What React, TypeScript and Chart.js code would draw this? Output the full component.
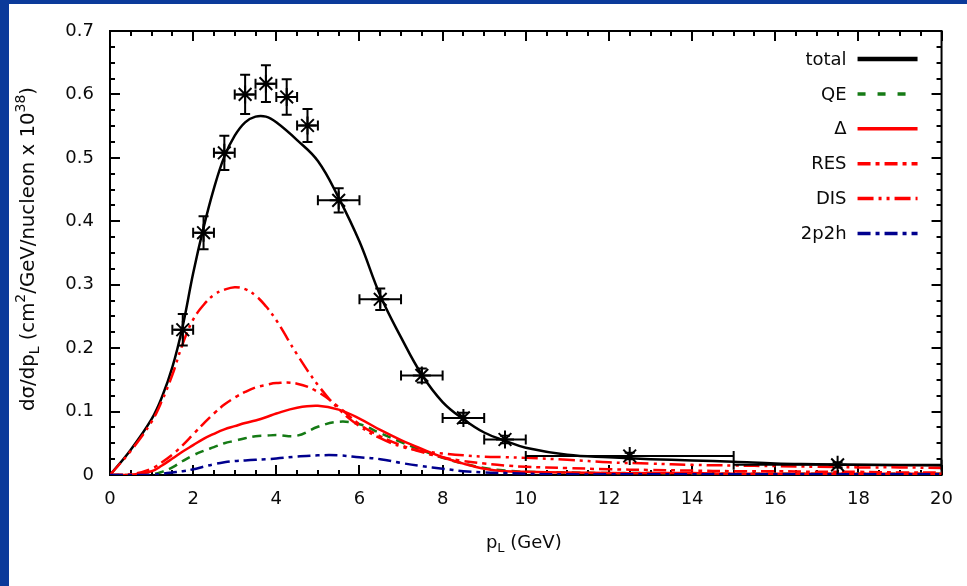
import React, { useEffect, useRef } from 'react';
import { Chart, registerables } from 'chart.js';

Chart.register(...registerables);

// ---------- data ----------
const curveX = [0, 0.5, 1, 1.25, 1.5, 1.75, 2, 2.25, 2.5, 2.75, 3, 3.25, 3.5, 3.75, 4, 4.5, 5, 5.5, 6, 6.5, 7, 7.5, 8, 8.5, 9, 9.5, 10, 11, 12, 13, 14, 15, 16, 17, 18, 19, 20];
const totalY = [0, 0.04, 0.088, 0.123, 0.17, 0.235, 0.318, 0.39, 0.452, 0.502, 0.535, 0.556, 0.565, 0.565, 0.556, 0.528, 0.495, 0.437, 0.368, 0.283, 0.217, 0.158, 0.115, 0.088, 0.067, 0.054, 0.043, 0.032, 0.028, 0.025, 0.023, 0.021, 0.018, 0.017, 0.016, 0.0155, 0.015];
const qeY = [0, 0, 0.001, 0.005, 0.012, 0.022, 0.031, 0.038, 0.044, 0.05, 0.054, 0.058, 0.061, 0.062, 0.063, 0.062, 0.076, 0.084, 0.08, 0.066, 0.052, 0.039, 0.027, 0.018, 0.011, 0.007, 0.005, 0.004, 0.003, 0.003, 0.002, 0.002, 0.002, 0.002, 0.002, 0.002, 0.002];
const deltaY = [0, 0.0005, 0.006, 0.015, 0.026, 0.037, 0.047, 0.057, 0.065, 0.072, 0.077, 0.082, 0.086, 0.091, 0.097, 0.106, 0.109, 0.103, 0.089, 0.071, 0.055, 0.041, 0.028, 0.018, 0.01, 0.006, 0.005, 0.004, 0.003, 0.003, 0.003, 0.002, 0.002, 0.002, 0.002, 0.002, 0.002];
const resY = [0, 0.001, 0.01, 0.02, 0.032, 0.047, 0.064, 0.081, 0.097, 0.111, 0.122, 0.131, 0.138, 0.142, 0.145, 0.144, 0.131, 0.107, 0.08, 0.061, 0.047, 0.036, 0.028, 0.022, 0.018, 0.015, 0.013, 0.011, 0.009, 0.008, 0.007, 0.006, 0.006, 0.005, 0.005, 0.004, 0.004];
const disY = [0, 0.038, 0.084, 0.117, 0.158, 0.207, 0.245, 0.268, 0.284, 0.292, 0.296, 0.293, 0.283, 0.266, 0.244, 0.19, 0.142, 0.104, 0.077, 0.058, 0.045, 0.038, 0.034, 0.031, 0.029, 0.028, 0.027, 0.024, 0.02, 0.018, 0.016, 0.015, 0.014, 0.013, 0.012, 0.012, 0.011];
const twoP2hY = [0, 0, 0, 0.002, 0.004, 0.006, 0.009, 0.013, 0.017, 0.02, 0.022, 0.023, 0.024, 0.025, 0.026, 0.029, 0.031, 0.031, 0.028, 0.025, 0.019, 0.014, 0.01, 0.006, 0.004, 0.003, 0.002, 0.001, 0.001, 0.001, 0.001, 0.001, 0.001, 0.001, 0.001, 0.001, 0.001];

const pointX = [1.75, 2.25, 2.75, 3.25, 3.75, 4.25, 4.75, 5.5, 6.5, 7.5, 8.5, 9.5, 12.5, 17.5];
const pointY = [0.229, 0.382, 0.508, 0.6, 0.617, 0.596, 0.551, 0.433, 0.277, 0.157, 0.09, 0.056, 0.03, 0.016];
const pointYErr = [0.025, 0.026, 0.027, 0.031, 0.029, 0.028, 0.026, 0.019, 0.017, 0.011, 0.008, 0.006, 0.005, 0.004];
const pointXErr = [0.25, 0.25, 0.25, 0.25, 0.25, 0.25, 0.25, 0.5, 0.5, 0.5, 0.5, 0.5, 2.5, 2.5];

const xTickLabels = ['0', '2', '4', '6', '8', '10', '12', '14', '16', '18', '20'];
const yTickLabels = ['0', '0.1', '0.2', '0.3', '0.4', '0.5', '0.6', '0.7'];

// ---------- styles ----------
const FONT = '"DejaVu Sans", Verdana, sans-serif';
const TEXT = '#0a0a0a';
const BLUE = '#0b3a9a';
const RED = '#ff0000';
const GREEN = '#157a15';
const NAVY = '#00008e';

const toXY = (ys: number[]) => curveX.map((x, i) => ({ x, y: ys[i] }));

type Seg = { t: string; k: 'n' | 'sub' | 'sup' };

function drawRich(ctx: CanvasRenderingContext2D, segs: Seg[], cx: number, cy: number, angle: number, size: number) {
  ctx.save();
  ctx.translate(cx, cy);
  ctx.rotate(angle);
  const fontFor = (k: string) => `${k === 'n' ? size : Math.round(size * 0.7)}px ${FONT}`;
  let total = 0;
  const widths = segs.map((s) => {
    ctx.font = fontFor(s.k);
    const w = ctx.measureText(s.t).width;
    total += w;
    return w;
  });
  let x = -total / 2;
  ctx.textBaseline = 'middle';
  ctx.textAlign = 'left';
  ctx.fillStyle = TEXT;
  segs.forEach((s, i) => {
    ctx.font = fontFor(s.k);
    const dy = s.k === 'sub' ? size * 0.32 : s.k === 'sup' ? -size * 0.38 : 0;
    ctx.fillText(s.t, x, dy);
    x += widths[i];
  });
  ctx.restore();
}

const framePlugin = {
  id: 'frameTicks',
  beforeDatasetsDraw(chart: any) {
    const { ctx, chartArea } = chart;
    const { left, right, top, bottom } = chartArea;
    const xs = chart.scales.x;
    const ys = chart.scales.y;
    ctx.save();
    ctx.strokeStyle = '#000';
    ctx.lineWidth = 2;
    ctx.beginPath();
    for (let i = 0; i <= 40; i++) {
      const v = i * 0.5;
      const px = Math.round(xs.getPixelForValue(v));
      const len = i % 4 === 0 ? 10 : 5;
      ctx.moveTo(px, bottom);
      ctx.lineTo(px, bottom - len);
      ctx.moveTo(px, top);
      ctx.lineTo(px, top + len);
    }
    for (let i = 0; i <= 28; i++) {
      const v = i * 0.025;
      const py = Math.round(ys.getPixelForValue(v));
      const len = i % 4 === 0 ? 10 : 5;
      ctx.moveTo(left, py);
      ctx.lineTo(left + len, py);
      ctx.moveTo(right, py);
      ctx.lineTo(right - len, py);
    }
    ctx.stroke();
    ctx.strokeRect(left, top, right - left, bottom - top);
    ctx.restore();
  },
};

const errorBarPlugin = {
  id: 'errorBars',
  afterDatasetsDraw(chart: any) {
    const { ctx } = chart;
    const xs = chart.scales.x;
    const ys = chart.scales.y;
    const cap = 5;
    ctx.save();
    ctx.strokeStyle = '#000';
    ctx.lineWidth = 2;
    ctx.beginPath();
    pointX.forEach((xv, i) => {
      const yv = pointY[i];
      const px = xs.getPixelForValue(xv);
      const py = ys.getPixelForValue(yv);
      const y1 = ys.getPixelForValue(yv - pointYErr[i]);
      const y2 = ys.getPixelForValue(yv + pointYErr[i]);
      const x1 = xs.getPixelForValue(xv - pointXErr[i]);
      const x2 = xs.getPixelForValue(xv + pointXErr[i]);
      ctx.moveTo(px, y1); ctx.lineTo(px, y2);
      ctx.moveTo(px - cap, y1); ctx.lineTo(px + cap, y1);
      ctx.moveTo(px - cap, y2); ctx.lineTo(px + cap, y2);
      ctx.moveTo(x1, py); ctx.lineTo(x2, py);
      ctx.moveTo(x1, py - cap); ctx.lineTo(x1, py + cap);
      ctx.moveTo(x2, py - cap); ctx.lineTo(x2, py + cap);
    });
    ctx.stroke();
    ctx.restore();
  },
};

const legendPlugin = {
  id: 'insideLegend',
  afterDatasetsDraw(chart: any) {
    const { ctx, chartArea } = chart;
    const items = chart.data.datasets.filter((d: any) => d.inLegend);
    const lineEnd = chartArea.right - 24;
    const lineStart = lineEnd - 60;
    const textRight = lineStart - 11;
    ctx.save();
    ctx.font = `18px ${FONT}`;
    ctx.textAlign = 'right';
    ctx.textBaseline = 'middle';
    items.forEach((d: any, i: number) => {
      const y = chartArea.top + 28 + i * 34.9;
      ctx.fillStyle = TEXT;
      ctx.fillText(d.label, textRight, y + 1);
      ctx.strokeStyle = d.borderColor;
      ctx.lineWidth = d.legendWidth;
      ctx.lineCap = 'butt';
      ctx.setLineDash(d.legendDash);
      ctx.beginPath();
      ctx.moveTo(lineStart, y);
      ctx.lineTo(lineEnd, y);
      ctx.stroke();
    });
    ctx.restore();
  },
};

const titlePlugin = {
  id: 'richTitles',
  afterDraw(chart: any) {
    const { ctx, chartArea } = chart;
    const cx = (chartArea.left + chartArea.right) / 2;
    const cy = (chartArea.top + chartArea.bottom) / 2;
    drawRich(ctx, [{ t: 'p', k: 'n' }, { t: 'L', k: 'sub' }, { t: ' (GeV)', k: 'n' }], cx - 2, chartArea.bottom + 68, 0, 18);
    drawRich(
      ctx,
      [
        { t: 'dσ/dp', k: 'n' },
        { t: 'L', k: 'sub' },
        { t: ' (cm', k: 'n' },
        { t: '2', k: 'sup' },
        { t: '/GeV/nucleon x 10', k: 'n' },
        { t: '38', k: 'sup' },
        { t: ')', k: 'n' },
      ],
      29,
      cy - 4,
      -Math.PI / 2,
      19.7
    );
  },
};

export default function App() {
  const ref = useRef<HTMLCanvasElement>(null);

  useEffect(() => {
    if (!ref.current) return;
    const lineBase = { pointRadius: 0, borderWidth: 2.5, tension: 0.4, fill: false, borderCapStyle: 'butt', inLegend: true };
    const chart = new Chart(ref.current, {
      type: 'line',
      data: {
        datasets: [
          {
            type: 'scatter',
            label: 'data',
            data: pointX.map((x, i) => ({ x, y: pointY[i] })),
            pointStyle: 'star',
            pointRadius: 9,
            pointBorderWidth: 2,
            pointBorderColor: '#000',
            borderColor: '#000',
            backgroundColor: '#000',
            showLine: false,
            order: 0,
          } as any,
          { ...lineBase, label: 'total', data: toXY(totalY), borderColor: '#000', legendDash: [], legendWidth: 4.5, borderDash: [], order: 7 } as any,
          { ...lineBase, label: 'QE', data: toXY(qeY), borderColor: GREEN, borderDash: [9, 6], legendDash: [8, 12], legendWidth: 3.5, order: 6 } as any,
          { ...lineBase, label: 'Δ', data: toXY(deltaY), borderColor: RED, borderDash: [], legendDash: [], legendWidth: 3.5, order: 5 } as any,
          { ...lineBase, label: 'RES', data: toXY(resY), borderColor: RED, borderDash: [13, 5, 4, 5], legendDash: [13, 5, 4, 5], legendWidth: 3.5, order: 4 } as any,
          { ...lineBase, label: 'DIS', data: toXY(disY), borderColor: RED, borderDash: [16, 5, 3, 5, 3, 5], legendDash: [16, 5, 3, 5, 3, 5], legendWidth: 3.5, order: 3 } as any,
          { ...lineBase, label: '2p2h', data: toXY(twoP2hY), borderColor: NAVY, borderDash: [13, 5, 4, 5], legendDash: [13, 5, 4, 5], legendWidth: 3.5, order: 2 } as any,
        ],
      },
      options: {
        animation: false,
        responsive: false,
        devicePixelRatio: 1,
        layout: { padding: { left: 0, top: 31, right: 25, bottom: 0 } },
        plugins: { legend: { display: false }, tooltip: { enabled: false }, title: { display: false } },
        scales: {
          x: {
            type: 'linear',
            min: 0,
            max: 20,
            afterBuildTicks: (s: any) => {
              s.ticks = xTickLabels.map((l) => ({ value: Number(l) }));
            },
            ticks: {
              callback: (v: any, i: number) => xTickLabels[i],
              font: { family: FONT, size: 18 },
              color: TEXT,
              padding: 14,
              maxRotation: 0,
              autoSkip: false,
            },
            grid: { display: false, drawTicks: false },
            border: { display: false },
            afterFit: (s: any) => {
              s.height = 111;
            },
          },
          y: {
            type: 'linear',
            min: 0,
            max: 0.7,
            afterBuildTicks: (s: any) => {
              s.ticks = yTickLabels.map((l) => ({ value: Number(l) }));
            },
            ticks: {
              callback: (v: any, i: number) => yTickLabels[i],
              font: { family: FONT, size: 18 },
              color: TEXT,
              padding: 16,
              autoSkip: false,
            },
            grid: { display: false, drawTicks: false },
            border: { display: false },
            afterFit: (s: any) => {
              s.width = 110;
            },
          },
        },
      } as any,
      plugins: [framePlugin, errorBarPlugin, legendPlugin, titlePlugin],
    });
    return () => chart.destroy();
  }, []);

  return (
    <div style={{ position: 'fixed', left: 0, top: 0, width: 967, height: 586, background: '#fff', overflow: 'hidden' }}>
      <div style={{ position: 'absolute', left: 0, top: 0, width: 967, height: 4, background: BLUE }} />
      <div style={{ position: 'absolute', left: 0, top: 0, width: 9, height: 586, background: BLUE }} />
      <canvas ref={ref} width={967} height={586} style={{ position: 'absolute', left: 0, top: 0, width: 967, height: 586 }} />
    </div>
  );
}
